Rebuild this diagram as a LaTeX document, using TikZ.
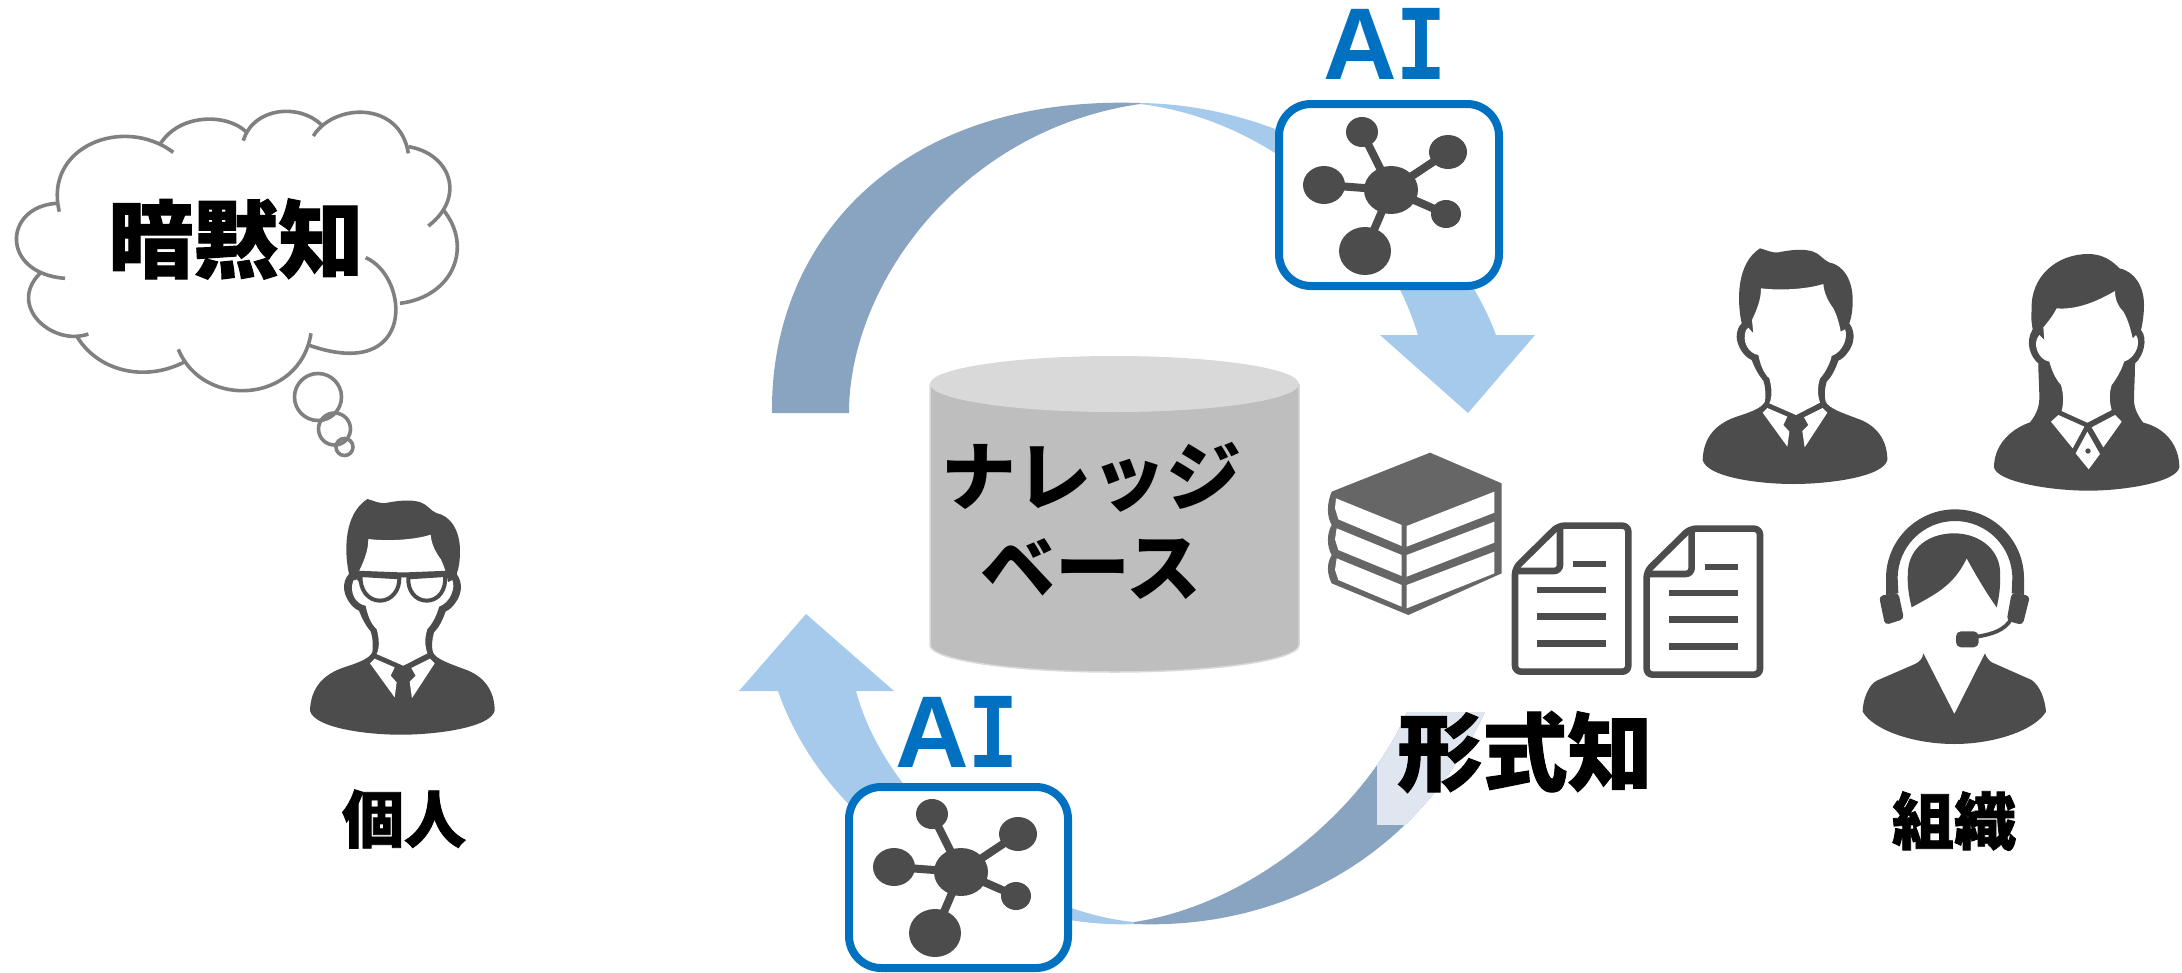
\documentclass[tikz,border=0pt]{standalone}
\usepackage{fontspec}
\setmainfont{Noto Sans CJK JP}
\newfontfamily\jpf[BoldFeatures={FakeBold=1.2}]{Noto Sans CJK JP}
\newfontfamily\jpm{Noto Sans CJK JP}
\newfontfamily\aia{Liberation Sans}
\newfontfamily\aii{Liberation Mono}
\definecolor{icon}{HTML}{4C4C4C}
\definecolor{bookc}{HTML}{666666}
\definecolor{light}{HTML}{A6CAEC}
\definecolor{darkb}{HTML}{88A4C0}
\definecolor{pale}{HTML}{E0E6EF}
\definecolor{aiblue}{HTML}{0070C0}
\definecolor{cloudc}{HTML}{808080}
\tikzset{
  zz/.style={x=0.33333pt,y=-0.33333pt},
  lbl/.style={inner sep=0pt,outer sep=0pt,text=black},
  ailbl/.style={inner sep=0pt,outer sep=0pt,text=aiblue,anchor=base},
  cloudline/.style={draw=cloudc,line width=3.6pt},
  aibox/.style={draw=aiblue,line width=8pt,fill=white,rounded corners=32pt},
  netlink/.style={draw=icon,line width=8pt},
  docline/.style={draw=icon,line width=6.6pt,line join=round,rounded corners=6pt},
  docrule/.style={draw=icon,line width=6.6pt},
}
\newcommand{\ailetters}{\bfseries\aia\fontsize{102}{102}\selectfont A\hspace{-1pt}\aii\fontsize{108}{108}\selectfont\scalebox{0.77}[1]{I}}
% male bust, coordinates in 1/3 px
\newcommand{\malebust}[2]{%
\begin{scope}[shift={(#1,#2)},zz]
\fill[icon] (240,55) .. controls (255,58) and (275,70) .. (295,67)
 .. controls (330,60) and (370,55) .. (400,65)
 .. controls (420,72) and (430,90) .. (447,97)
 .. controls (490,105) and (518,150) .. (518,210)
 .. controls (518,240) and (515,260) .. (508,280)
 .. controls (530,310) and (520,345) .. (505,365)
 .. controls (495,380) and (485,388) .. (475,392)
 .. controls (465,420) and (455,440) .. (440,455)
 .. controls (434,475) and (432,500) .. (437,515)
 .. controls (445,535) and (490,550) .. (530,565)
 .. controls (590,585) and (622,630) .. (622,690)
 .. controls (610,740) and (450,762) .. (340,762)
 .. controls (230,762) and (80,740) .. (68,690)
 .. controls (70,620) and (110,580) .. (170,560)
 .. controls (210,547) and (245,535) .. (255,515)
 .. controls (258,490) and (255,465) .. (250,452)
 .. controls (235,435) and (225,415) .. (215,390)
 .. controls (190,380) and (170,345) .. (170,320)
 .. controls (170,305) and (175,290) .. (185,280)
 .. controls (170,210) and (170,100) .. (240,55) -- cycle;
\fill[white] (243,175) .. controls (300,182) and (380,178) .. (430,162)
 .. controls (432,190) and (445,215) .. (460,235)
 .. controls (470,255) and (478,280) .. (482,305) -- (495,298)
 .. controls (505,320) and (490,365) .. (455,378)
 .. controls (450,400) and (435,430) .. (420,445)
 .. controls (412,470) and (412,495) .. (420,518)
 -- (348,555) -- (268,520)
 .. controls (278,500) and (275,470) .. (268,445)
 .. controls (250,430) and (240,400) .. (235,375)
 .. controls (205,370) and (185,335) .. (198,300)
 -- (205,293) -- (220,310) -- (216,270)
 .. controls (230,240) and (243,210) .. (243,175) -- cycle;
\fill[white] (262,534)--(322,560)--(310,585)--(328,605)--(322,650)--(248,548)--cycle;
\fill[white] (428,534)--(372,562)--(385,585)--(367,603)--(374,652)--(442,548)--cycle;
\end{scope}}
\newcommand{\netgraph}[2]{%
\begin{scope}[shift={(#1,#2)}]
\draw[netlink] (1391,190)--(1362,132) (1391,190)--(1448,152) (1391,190)--(1324,185) (1391,190)--(1446,214) (1391,190)--(1365,251);
\fill[icon] (1391,190) ellipse [x radius=27,y radius=24];
\fill[icon] (1362,132) ellipse [x radius=16,y radius=15];
\fill[icon] (1448,152) ellipse [x radius=19,y radius=17];
\fill[icon] (1324,185) ellipse [x radius=21,y radius=19];
\fill[icon] (1446,214) ellipse [x radius=15,y radius=14];
\fill[icon] (1365,251) ellipse [x radius=26,y radius=24];
\end{scope}}
\newcommand{\docicon}[2]{%
\begin{scope}[shift={(#1,#2)},zz]
\fill[white] (745,257)--(955,257)--(955,695)--(615,695)--(615,385)--cycle;
\draw[docline] (745,257)--(955,257)--(955,695)--(615,695)--(615,385)--cycle;
\draw[docline] (750,265)--(750,393)--(620,393);
\draw[docrule] (790,372)--(888,372) (682,450)--(888,450) (682,530)--(888,530) (682,610)--(888,610);
\end{scope}}
\begin{document}
\begin{tikzpicture}[x=1pt,y=-1pt]
\useasboundingbox (0,0) rectangle (2182,972);
\fill[white] (0,0) rectangle (2182,972);

% ---- cycle arrows
\fill[light] (1140,103) .. controls (1300,105) and (1450,210) .. (1496,335) -- (1535,335) -- (1468,413) -- (1380,335) -- (1418,335) .. controls (1380,210) and (1260,118) .. (1140,104) -- cycle;
\fill[darkb] (772,413) .. controls (770,240) and (900,95) .. (1140,103) -- (1140,104) .. controls (960,130) and (849,285) .. (849,413) -- cycle;

\fill[light] (1134,924) .. controls (1000,930) and (830,840) .. (778,691) -- (739,691) -- (806,614) -- (894,691) -- (856,691) .. controls (885,800) and (1010,910) .. (1134,922) -- cycle;
\fill[darkb] (1134,924) .. controls (1290,930) and (1420,850) .. (1485,712) -- (1407,712) .. controls (1365,810) and (1250,905) .. (1134,922) -- cycle;
\begin{scope}
\clip (1134,924) .. controls (1290,930) and (1420,850) .. (1485,712) -- (1407,712) .. controls (1365,810) and (1250,905) .. (1134,922) -- cycle;
\fill[pale] (1377,700) rectangle (1500,825);
\end{scope}

% ---- AI boxes
\draw[aibox] (1279,104) rectangle (1499,286);
\netgraph{0}{0}
\draw[aibox] (849,787) rectangle (1068,968);
\netgraph{-430}{682}
\node[ailbl] (ai1) at (1385,79) {\ailetters};
\node[ailbl] (ai2) at (957,767) {\ailetters};

% ---- cylinder
\fill[black!25.5] (930,384) -- (930,645) arc[start angle=180,end angle=0,x radius=184.5,y radius=27] -- (1299,384) -- cycle;
\draw[black!15,line width=1.5pt] (930,384) -- (930,645) arc[start angle=180,end angle=0,x radius=184.5,y radius=27] -- (1299,384);
\fill[black!15] (1114.5,384) ellipse [x radius=184.5,y radius=28];
\node[lbl,font=\jpm\bfseries\fontsize{75}{75}\selectfont] (kb1) at (1091,477) {ナレッジ};
\node[lbl,font=\jpm\bfseries\fontsize{75}{75}\selectfont] (kb2) at (1091,569) {ベース};

% ---- cloud
\begin{scope}[shift={(0,90)},zz]
\draw[cloudline] (178,365) .. controls (130,170) and (370,75) .. (520,187);
\draw[cloudline] (482,160) .. controls (540,70) and (680,70) .. (738,125);
\draw[cloudline] (730,152) .. controls (760,50) and (900,40) .. (965,105);
\draw[cloudline] (940,138) .. controls (1000,40) and (1200,30) .. (1225,190);
\draw[cloudline] (1225,170) .. controls (1350,190) and (1400,320) .. (1285,408);
\draw[cloudline] (1330,360) .. controls (1420,470) and (1360,620) .. (1200,640);
\draw[cloudline] (1097,503) .. controls (1230,560) and (1250,880) .. (925,765);
\draw[cloudline] (933,730) .. controls (900,940) and (610,960) .. (535,778);
\draw[cloudline] (555,815) .. controls (430,880) and (290,840) .. (230,738);
\draw[cloudline] (265,732) .. controls (160,770) and (20,650) .. (120,550);
\draw[cloudline] (195,565) .. controls (0,550) and (10,350) .. (170,340);
\end{scope}
\draw[cloudline] (318,397) circle [radius=23.5];
\draw[cloudline] (334.5,429) circle [radius=16];
\draw[cloudline] (344.5,447) circle [radius=8.5];
\node[lbl,font=\jpf\bfseries\fontsize{85}{85}\selectfont] (tacit) at (236,239) {暗黙知};

% ---- individual
\malebust{287.33}{480.7}
\begin{scope}[shift={(270,470)},zz]
\draw[icon,line width=4pt,fill=white] (272,315) .. controls (268,360) and (295,392) .. (330,392) .. controls (365,392) and (390,360) .. (388,322) -- cycle;
\draw[icon,line width=4pt,fill=white] (525,315) .. controls (530,360) and (505,392) .. (470,392) .. controls (435,392) and (412,360) .. (415,322) -- cycle;
\draw[icon,line width=5pt] (250,325)--(272,310)--(400,315)--(525,310)--(548,325);
\end{scope}
\node[lbl,font=\jpf\bfseries\fontsize{62}{62}\selectfont] (person) at (404,819) {個人};

% ---- organisation
\malebust{1680}{230}
\begin{scope}[shift={(1680,230)},zz]
\fill[icon] (1055,240) .. controls (1050,140) and (1130,72) .. (1225,72) .. controls (1265,72) and (1295,90) .. (1318,115) .. controls (1365,125) and (1392,170) .. (1392,225) .. controls (1392,250) and (1388,280) .. (1383,300) .. controls (1405,325) and (1390,380) .. (1365,400) .. controls (1365,440) and (1362,480) .. (1362,510) .. controls (1362,535) and (1375,560) .. (1390,578) .. controls (1460,595) and (1498,650) .. (1498,712) .. controls (1490,755) and (1340,782) .. (1225,782) .. controls (1110,782) and (950,755) .. (942,712) .. controls (942,650) and (985,600) .. (1050,577) .. controls (1068,555) and (1078,530) .. (1078,505) .. controls (1078,470) and (1075,440) .. (1075,400) .. controls (1050,380) and (1035,335) .. (1058,298) .. controls (1055,280) and (1052,260) .. (1055,240) -- cycle;
\fill[white] (1130,235) .. controls (1190,240) and (1250,215) .. (1305,183) .. controls (1305,210) and (1315,230) .. (1330,245) .. controls (1345,270) and (1352,300) .. (1358,325) -- (1368,315) .. controls (1385,340) and (1365,385) .. (1332,395) .. controls (1325,420) and (1310,445) .. (1295,465) .. controls (1287,490) and (1288,515) .. (1295,540) -- (1222,578) -- (1145,543) .. controls (1152,515) and (1150,490) .. (1143,465) .. controls (1125,445) and (1115,420) .. (1108,395) .. controls (1075,390) and (1055,340) .. (1078,315) -- (1093,330) -- (1090,292) .. controls (1105,275) and (1120,255) .. (1130,235) -- cycle;
\fill[white] (1135,555)--(1213,590)--(1178,655)--(1113,575)--cycle;
\fill[white] (1305,555)--(1235,592)--(1270,652)--(1325,575)--cycle;
\fill[white] (1222,605)--(1260,672)--(1226,718)--(1187,670)--cycle;
\fill[icon] (1224,663) circle [radius=8];
\end{scope}
\begin{scope}[shift={(1830,490)},zz]
\fill[icon] (280,490) .. controls (278,505) and (270,515) .. (255,522) -- (140,572) .. controls (115,585) and (98,630) .. (98,665) .. controls (130,720) and (250,762) .. (373,762) .. controls (495,762) and (615,720) .. (648,665) .. controls (645,630) and (632,590) .. (605,570) -- (485,517) .. controls (475,510) and (468,500) .. (465,490) -- (373,672) -- cycle;
\fill[icon] (245,352) .. controls (232,300) and (232,270) .. (234,240) .. controls (240,170) and (300,130) .. (372,130) .. controls (445,130) and (505,175) .. (510,240) .. controls (512,275) and (510,310) .. (500,352) .. controls (470,310) and (440,260) .. (410,205) .. controls (370,290) and (310,315) .. (245,352) -- cycle;
\fill[icon] (168,315) -- (168,265) .. controls (168,151) and (261,58) .. (375,58) .. controls (489,58) and (582,151) .. (582,265) -- (582,315) -- (545,310) -- (547,265) .. controls (547,170) and (470,93) .. (375,93) .. controls (280,93) and (203,170) .. (203,265) -- (205,310) -- cycle;
\fill[icon,rounded corners=4pt] (147,318)--(205,308)--(222,387)--(165,405)--cycle;
\fill[icon,rounded corners=4pt] (600,318)--(545,308)--(530,392)--(578,405)--cycle;
\draw[icon,line width=3.8pt] (545,385) .. controls (525,420) and (490,432) .. (440,440);
\fill[icon,rounded corners=5pt] (378,424) rectangle (446,472);
\end{scope}
\node[lbl,font=\jpf\bfseries\fontsize{62}{62}\selectfont] (org) at (1954,821) {組織};

% ---- books and documents
\begin{scope}[shift={(1310,440)},zz]
\fill[bookc] (65,155)--(360,38)--(575,130)--(575,400)--(295,525)--(65,430) .. controls (50,400) and (50,370) .. (65,345) .. controls (50,320) and (50,280) .. (65,255) .. controls (50,230) and (50,190) .. (65,155)--cycle;
\fill[white] (78,175)--(275,255)--(275,318)--(85,238)--(75,205)--cycle;
\fill[white] (290,258)--(553,155)--(553,218)--(290,320)--cycle;
\fill[white] (80,265)--(275,345)--(275,408)--(85,330)--(75,298)--cycle;
\fill[white] (290,345)--(553,245)--(553,308)--(290,410)--cycle;
\fill[white] (80,355)--(275,435)--(275,500)--(85,420)--(75,390)--cycle;
\fill[white] (290,435)--(553,335)--(553,400)--(290,505)--cycle;
\end{scope}
\docicon{1310}{440}
\docicon{1441.67}{443}
\node[lbl,font=\jpf\bfseries\fontsize{85}{85}\selectfont] (formal) at (1525,752) {形式知};
\end{tikzpicture}
\end{document}
